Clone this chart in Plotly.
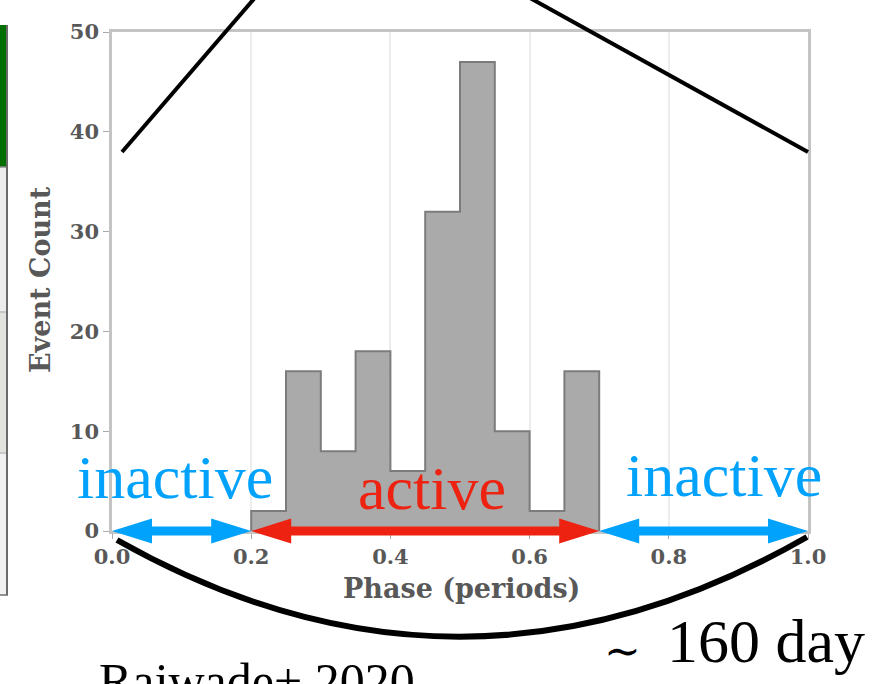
import plotly.graph_objects as go

# ---- data -----------------------------------------------------------------
phase_edges = [0.20, 0.25, 0.30, 0.35, 0.40, 0.45, 0.50, 0.55, 0.60, 0.65, 0.70]
event_counts = [2, 16, 8, 18, 6, 32, 47, 10, 2, 16]

x_tickvals = [0.0, 0.2, 0.4, 0.6, 0.8, 1.0]
x_ticktext = ["0.0", "0.2", "0.4", "0.6", "0.8", "1.0"]
y_tickvals = [0, 10, 20, 30, 40, 50]
y_ticktext = ["0", "10", "20", "30", "40", "50"]

inactive_early = [0.0, 0.2]
active_window = [0.2, 0.7]
inactive_late = [0.7, 1.0]

# ---- geometry ---------------------------------------------------------------
W, H = 877, 684
AX_L, AX_R, AX_T, AX_B = 112, 808, 32, 531
X_RANGE = [0.0, 1.0]
Y_RANGE = [0, 50]

BLUE = "#00a2fb"
RED = "#ee2211"
TICK_GREY = "#585858"


def px(x):
    return x / W


def py(y):
    return 1 - y / H


def phase_px(p):
    return AX_L + (p - X_RANGE[0]) / (X_RANGE[1] - X_RANGE[0]) * (AX_R - AX_L)


def count_py(c):
    return AX_B - (c - Y_RANGE[0]) / (Y_RANGE[1] - Y_RANGE[0]) * (AX_B - AX_T)


def double_arrow(p0, p1, color, head_len=40, head_half=12.5, body_half=4.5):
    xl, xr = phase_px(p0), phase_px(p1)
    yc = count_py(0)
    pts = [
        (xl, yc),
        (xl + head_len, yc - head_half),
        (xl + head_len, yc - body_half),
        (xr - head_len, yc - body_half),
        (xr - head_len, yc - head_half),
        (xr, yc),
        (xr - head_len, yc + head_half),
        (xr - head_len, yc + body_half),
        (xl + head_len, yc + body_half),
        (xl + head_len, yc + head_half),
    ]
    path = "M " + " L ".join(f"{px(x):.5f},{py(y):.5f}" for x, y in pts) + " Z"
    return dict(type="path", xref="paper", yref="paper", path=path,
                fillcolor=color, line=dict(width=0), layer="above")


# step outline of the histogram (stepfilled)
step_x = [phase_edges[0]] + phase_edges
step_y = [0] + event_counts + [0]

fig = go.Figure()
fig.add_trace(go.Scatter(
    x=step_x, y=step_y, mode="lines",
    line=dict(color="#7c7c7c", width=2, shape="hv"),
    fill="toself", fillcolor="#aaaaaa",
    hoverinfo="skip",
))

tick_font = dict(family="DejaVu Serif", size=21, color=TICK_GREY, weight="bold")

fig.update_layout(
    template="none",
    width=W, height=H,
    margin=dict(l=0, r=0, t=0, b=0),
    paper_bgcolor="white", plot_bgcolor="white",
    showlegend=False,
    xaxis=dict(
        domain=[px(AX_L), px(AX_R)], range=X_RANGE, automargin=False,
        tickvals=x_tickvals, ticktext=x_ticktext, tickfont=tick_font,
        showgrid=True, gridcolor="#ececec", gridwidth=1.5, zeroline=False,
        showline=True, linecolor="#c4c4c4", linewidth=2.5, mirror=True,
        ticks="outside", ticklen=5, tickcolor="#aaaaaa",
    ),
    yaxis=dict(
        domain=[py(AX_B), py(AX_T)], range=Y_RANGE, automargin=False,
        tickvals=y_tickvals, ticktext=y_ticktext, tickfont=tick_font,
        showgrid=False, zeroline=False,
        showline=True, linecolor="#c4c4c4", linewidth=2.5, mirror=True,
        ticks="outside", ticklen=6, tickcolor="#aaaaaa",
    ),
)

shapes = []

# neighbouring panel peeking in at the left edge
panel = [
    (25, 167, "#006f00"),
    (167, 312, "#ececec"),
    (312, 453, "#e2e2df"),
    (453, 595, "#f1f1f1"),
]
for y0, y1, c in panel:
    shapes.append(dict(type="rect", xref="paper", yref="paper",
                       x0=px(-2), x1=px(7), y0=py(y1), y1=py(y0),
                       fillcolor=c, line=dict(width=0), layer="below"))
for yy, c in [(167, "#8a8a8a"), (312, "#bdbdbd"), (453, "#bdbdbd"), (595, "#6f6f6f")]:
    shapes.append(dict(type="line", xref="paper", yref="paper",
                       x0=px(-2), x1=px(8), y0=py(yy), y1=py(yy),
                       line=dict(color=c, width=1.5), layer="below"))
shapes.append(dict(type="line", xref="paper", yref="paper",
                   x0=px(7), x1=px(7), y0=py(25), y1=py(595),
                   line=dict(color="#6a6a6a", width=2), layer="below"))

# zoom-out guide lines
shapes.append(dict(type="line", xref="paper", yref="paper",
                   x0=px(122), y0=py(152), x1=px(259), y1=py(-7),
                   line=dict(color="black", width=4), layer="above"))
shapes.append(dict(type="line", xref="paper", yref="paper",
                   x0=px(521), y0=py(-7), x1=px(808), y1=py(152),
                   line=dict(color="black", width=4), layer="above"))

# activity windows
shapes.append(double_arrow(*active_window, RED))
shapes.append(double_arrow(*inactive_early, BLUE))
shapes.append(double_arrow(*inactive_late, BLUE))

# arc spanning one full period
arc = [(117, 540), (347, 670), (577, 669), (807, 537)]
arc_path = "M {:.5f},{:.5f} C {:.5f},{:.5f} {:.5f},{:.5f} {:.5f},{:.5f}".format(
    *[v for x, y in arc for v in (px(x), py(y))])
shapes.append(dict(type="path", xref="paper", yref="paper", path=arc_path,
                   line=dict(color="black", width=6), layer="above"))

fig.update_layout(shapes=shapes)

serif = "Liberation Serif"
ann = []


def label(text, x, y, size, color, family=serif, **kw):
    ann.append(dict(text=text, x=px(x), y=py(y), xref="paper", yref="paper",
                    xanchor="center", yanchor="middle", showarrow=False,
                    font=dict(family=family, size=size, color=color), **kw))


label("inactive", 175, 477, 62, BLUE)
label("active", 432, 488, 62, RED)
label("inactive", 724, 475, 62, BLUE)
label("\u223c", 622, 650, 44, "black", family="DejaVu Serif")
label("160 day", 766, 641, 62, "black")
label("Rajwade+ 2020", 257, 681, 50, "black")

# axis titles
title_font = dict(family="DejaVu Serif", size=27, color=TICK_GREY, weight="bold")
ann.append(dict(text="Phase (periods)", x=px(461), y=py(588), xref="paper", yref="paper",
                xanchor="center", yanchor="middle", showarrow=False, font=title_font))
ann.append(dict(text="Event Count", x=px(40), y=py(280), xref="paper", yref="paper",
                xanchor="center", yanchor="middle", showarrow=False, textangle=-90,
                font=title_font))

fig.update_layout(annotations=ann)

fig.write_html("out.html")
